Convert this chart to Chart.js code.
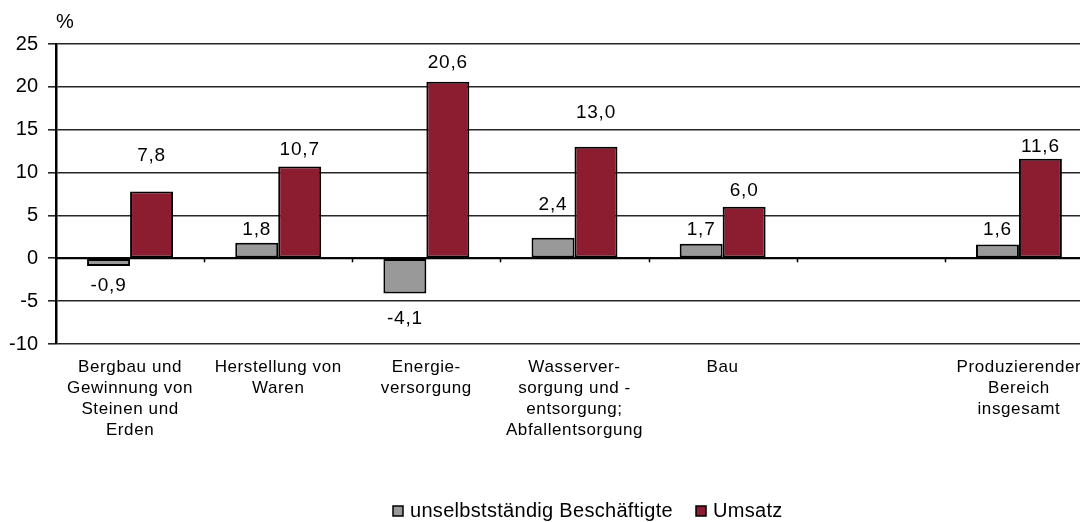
<!DOCTYPE html>
<html>
<head>
<meta charset="utf-8">
<script src="https://cdn.jsdelivr.net/npm/chart.js@4"></script>
<style>
  html, body { margin: 0; padding: 0; background: #fff; overflow: hidden; }
  #wrap { width: 1093px; height: 522px; position: relative; }
</style>
</head>
<body>
<div id="wrap"><canvas id="c" width="1093" height="522"></canvas></div>
<script>
// ---- data ----
const categories = [
  ["Bergbau und", "Gewinnung von", "Steinen und", "Erden"],
  ["Herstellung von", "Waren"],
  ["Energie-", "versorgung"],
  ["Wasserver-", "sorgung und -", "entsorgung;", "Abfallentsorgung"],
  ["Bau"],
  [""],
  ["Produzierender", "Bereich", "insgesamt"]
];
const seriesNames = ["unselbstständig Beschäftigte", "Umsatz"];
const beschaeftigte = [-0.9, 1.8, -4.1, 2.4, 1.7, null, 1.6];
const umsatz = [7.8, 10.7, 20.6, 13.0, 6.0, null, 11.6];
const yTicks = [-10, -5, 0, 5, 10, 15, 20, 25];

// ---- style ----
const FONT = '"Liberation Sans", Arial, sans-serif';
const colors = ['#999999', '#8c1c2f'];
// distance (px) from bar end to label centre, per series (label placement style)
const labelGap = [
  [20, 13, 25, 33, 14, null, 15],
  [36, 17, 19, 34, 16, null, 12]
];

function fmt(v) { return v.toFixed(1).replace('.', ','); }

const overlay = {
  id: 'overlay',
  afterDatasetsDraw(chart) {
    const ctx = chart.ctx;
    const y = chart.scales.y, x = chart.scales.x;
    const y0 = y.getPixelForValue(0);
    const area = chart.chartArea;
    ctx.save();
    // zero line
    ctx.strokeStyle = '#000'; ctx.lineWidth = 2;
    ctx.beginPath(); ctx.moveTo(area.left, y0); ctx.lineTo(area.right, y0); ctx.stroke();
    // category tick marks on zero line
    ctx.lineWidth = 1.5;
    const n = categories.length;
    const w = (area.right - area.left) / n;
    for (let k = 1; k < n; k++) {
      const xx = Math.round(area.left + w * k) + 0.5;
      ctx.beginPath(); ctx.moveTo(xx, y0); ctx.lineTo(xx, y0 + 4); ctx.stroke();
    }
    // data labels
    ctx.fillStyle = '#000';
    ctx.font = '19px ' + FONT;
    ctx.letterSpacing = '0.8px';
    ctx.textAlign = 'center'; ctx.textBaseline = 'middle';
    chart.data.datasets.forEach((ds, di) => {
      const meta = chart.getDatasetMeta(di);
      meta.data.forEach((el, i) => {
        const v = ds.data[i];
        if (v === null || v === undefined) return;
        const g = labelGap[di][i];
        const ty = v >= 0 ? el.y - g : el.y + g;
        ctx.fillText(fmt(v), el.x, ty);
      });
    });
    // category labels
    ctx.font = '17px ' + FONT;
    ctx.letterSpacing = '0.6px';
    categories.forEach((lines, i) => {
      const cx = x.getPixelForValue(i);
      lines.forEach((t, li) => ctx.fillText(t, cx, 367 + li * 21));
    });
    // unit
    ctx.textAlign = 'left';
    ctx.font = '20px ' + FONT;
    ctx.letterSpacing = '0px';
    ctx.fillText('%', 56, 22);
    // legend
    ctx.font = '20px ' + FONT;
    ctx.letterSpacing = '0.3px';
    let lx = 393; const ly = 511;
    seriesNames.forEach((name, i) => {
      ctx.fillStyle = colors[i];
      ctx.fillRect(lx, ly - 5, 10, 10);
      ctx.strokeStyle = '#000'; ctx.lineWidth = 1.5;
      ctx.strokeRect(lx, ly - 5, 10, 10);
      ctx.fillStyle = '#000';
      ctx.fillText(name, lx + 17, ly);
      lx += 17 + ctx.measureText(name).width + 23;
    });
    ctx.restore();
  }
};

new Chart(document.getElementById('c'), {
  type: 'bar',
  data: {
    labels: categories.map(c => c.join(' ')),
    datasets: [
      { label: seriesNames[0], data: beschaeftigte, backgroundColor: colors[0], borderColor: '#000', borderWidth: 2, borderSkipped: false },
      { label: seriesNames[1], data: umsatz, backgroundColor: colors[1], borderColor: '#000', borderWidth: 2, borderSkipped: false }
    ]
  },
  options: {
    responsive: false,
    animation: false,
    devicePixelRatio: 1,
    layout: { padding: { top: 44, left: 0, right: 0, bottom: 0 } },
    datasets: { bar: { categoryPercentage: 0.58, barPercentage: 1.0 } },
    plugins: { legend: { display: false }, tooltip: { enabled: false } },
    scales: {
      x: {
        grid: { display: false },
        border: { display: false },
        ticks: { display: false },
        afterFit(s) { s.height = 178; }
      },
      y: {
        min: -10, max: 25,
        afterBuildTicks(s) { s.ticks = yTicks.map(v => ({ value: v })); },
        afterFit(s) { s.width = 56; },
        grid: {
          color: '#262626',
          lineWidth: 1.6,
          tickLength: 8,
          drawTicks: true
        },
        border: { display: true, color: '#000', width: 2.5 },
        ticks: {
          color: '#000',
          padding: 10,
          font: { family: FONT, size: 20 },
          callback: v => String(v)
        }
      }
    }
  },
  plugins: [overlay]
});
</script>
</body>
</html>
